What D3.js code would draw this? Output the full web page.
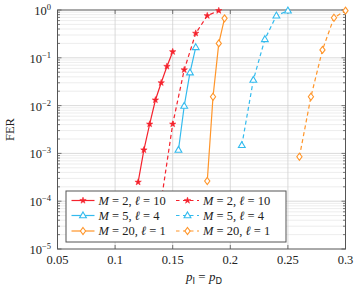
<!DOCTYPE html>
<html><head><meta charset="utf-8">
<script src="https://cdn.jsdelivr.net/npm/d3@7"></script>
<style>body{margin:0;background:#fff}svg{display:block}</style>
</head><body>
<svg id="c" width="359" height="289"></svg>
<script>
const xTicks = [0.05, 0.1, 0.15, 0.2, 0.25, 0.3];
const xTickLabels = ["0.05", "0.1", "0.15", "0.2", "0.25", "0.3"];
const yExponents = [0, -1, -2, -3, -4, -5];

const redSolidX = [0.12, 0.125, 0.13, 0.135, 0.14, 0.145, 0.15];
const redSolidY = [2.5e-4, 1.18e-3, 4.1e-3, 1.31e-2, 3.0e-2, 6.6e-2, 1.34e-1];
const redDashedX = [0.14, 0.15, 0.16, 0.17, 0.18, 0.19];
const redDashedY = [1.0e-4, 4.1e-3, 5.6e-2, 3.26e-1, 7.6e-1, 9.7e-1];
const blueSolidX = [0.155, 0.16, 0.165, 0.17];
const blueSolidY = [1.18e-3, 9.8e-3, 4.9e-2, 1.66e-1];
const blueDashedX = [0.21, 0.22, 0.23, 0.24, 0.25];
const blueDashedY = [1.48e-3, 3.43e-2, 2.44e-1, 7.6e-1, 9.7e-1];
const orangeSolidX = [0.18, 0.185, 0.19, 0.195];
const orangeSolidY = [2.65e-4, 1.53e-2, 2.0e-1, 6.7e-1];
const orangeDashedX = [0.26, 0.27, 0.28, 0.29, 0.30];
const orangeDashedY = [8.5e-4, 1.53e-2, 1.46e-1, 6.9e-1, 9.7e-1];

const legendM = ["2", "5", "20"];
const legendL = ["10", "4", "1"];

const RED = "#f5222d", BLUE = "#33bbee", ORANGE = "#ff9529";
const series = [
  {x: redSolidX, y: redSolidY, color: RED, dash: null, marker: "star"},
  {x: redDashedX, y: redDashedY, color: RED, dash: "4,3", marker: "star"},
  {x: blueSolidX, y: blueSolidY, color: BLUE, dash: null, marker: "tri"},
  {x: blueDashedX, y: blueDashedY, color: BLUE, dash: "4,3", marker: "tri"},
  {x: orangeSolidX, y: orangeSolidY, color: ORANGE, dash: null, marker: "dia"},
  {x: orangeDashedX, y: orangeDashedY, color: ORANGE, dash: "4,3", marker: "dia"}
];

const L = 57.5, R = 345.5, T = 10, B = 249;
const svg = d3.select("#c");
const x = d3.scaleLinear().domain([0.05, 0.3]).range([L, R]);
const y = d3.scaleLog().domain([1e-5, 1]).range([B, T]);
const FONT = "'Liberation Serif', 'DejaVu Serif', serif";

const minors = [];
for (let e = -5; e < 0; e++) for (let k = 2; k <= 9; k++) minors.push(k * Math.pow(10, e));

// grid
const g = svg.append("g");
g.selectAll(".mg").data(minors).join("line")
  .attr("x1", L).attr("x2", R).attr("y1", d => y(d)).attr("y2", d => y(d))
  .attr("stroke", "#e8e8e8").attr("stroke-width", 0.8);
g.selectAll(".Mg").data(yExponents.slice(1, -1).map(e => Math.pow(10, e))).join("line")
  .attr("x1", L).attr("x2", R).attr("y1", d => y(d)).attr("y2", d => y(d))
  .attr("stroke", "#d0d0d0").attr("stroke-width", 0.8);
g.selectAll(".vg").data(xTicks.slice(1, -1)).join("line")
  .attr("x1", d => x(d)).attr("x2", d => x(d)).attr("y1", T).attr("y2", B)
  .attr("stroke", "#d0d0d0").attr("stroke-width", 0.8);

// ticks (inward, both sides)
const tk = svg.append("g").attr("stroke", "#555").attr("stroke-width", 0.8);
minors.forEach(v => {
  tk.append("line").attr("x1", L).attr("x2", L + 2.5).attr("y1", y(v)).attr("y2", y(v));
  tk.append("line").attr("x1", R).attr("x2", R - 2.5).attr("y1", y(v)).attr("y2", y(v));
});
yExponents.forEach(e => {
  const v = Math.pow(10, e);
  tk.append("line").attr("x1", L).attr("x2", L + 4).attr("y1", y(v)).attr("y2", y(v));
  tk.append("line").attr("x1", R).attr("x2", R - 4).attr("y1", y(v)).attr("y2", y(v));
});
xTicks.forEach(v => {
  tk.append("line").attr("x1", x(v)).attr("x2", x(v)).attr("y1", B).attr("y2", B - 4);
  tk.append("line").attr("x1", x(v)).attr("x2", x(v)).attr("y1", T).attr("y2", T + 4);
});

svg.append("rect").attr("x", L).attr("y", T).attr("width", R - L).attr("height", B - T)
  .attr("fill", "none").attr("stroke", "#555").attr("stroke-width", 1);

// tick labels
svg.append("g").selectAll("text").data(xTicks).join("text")
  .attr("x", d => x(d)).attr("y", 263.5).attr("text-anchor", "middle")
  .attr("font-family", FONT).attr("font-size", 12.5).attr("fill", "#222")
  .text((d, i) => xTickLabels[i]);

const yl = svg.append("g");
yExponents.forEach(e => {
  const t = yl.append("text").attr("x", 51).attr("y", y(Math.pow(10, e)) + 5)
    .attr("text-anchor", "end").attr("font-family", FONT).attr("fill", "#222");
  t.append("tspan").attr("font-size", 12.5).text("10");
  t.append("tspan").attr("font-size", 8.5).attr("dy", -5).text(e === 0 ? "0" : "\u2212" + (-e));
});

svg.append("text").attr("transform", `translate(14,${(T + B) / 2}) rotate(-90)`)
  .attr("text-anchor", "middle").attr("font-family", FONT).attr("font-size", 12.5).attr("fill", "#222")
  .text("FER");
const xl = svg.append("text").attr("x", 204).attr("y", 281).attr("text-anchor", "middle")
  .attr("font-family", FONT).attr("font-size", 13).attr("fill", "#222");
xl.append("tspan").attr("font-style", "italic").text("p");
xl.append("tspan").attr("font-family", "'DejaVu Sans', sans-serif").attr("font-size", 8.5).attr("dy", 3).text("I");
xl.append("tspan").attr("dy", -3).text(" = ");
xl.append("tspan").attr("font-style", "italic").text("p");
xl.append("tspan").attr("font-family", "'DejaVu Sans', sans-serif").attr("font-size", 8.5).attr("dy", 3).text("D");

function starPath(r) {
  let p = "";
  for (let i = 0; i < 10; i++) {
    const rr = i % 2 === 0 ? r : r * 0.4;
    const a = -Math.PI / 2 + i * Math.PI / 5;
    p += (i === 0 ? "M" : "L") + (rr * Math.cos(a)).toFixed(2) + "," + (rr * Math.sin(a)).toFixed(2);
  }
  return p + "Z";
}
function drawMarker(sel, type, color, cx, cy) {
  if (type === "star") {
    sel.append("path").attr("d", starPath(3.4)).attr("transform", `translate(${cx},${cy})`)
      .attr("fill", color).attr("stroke", color).attr("stroke-width", 0.5);
  } else if (type === "tri") {
    sel.append("path").attr("d", "M0,-3.6L3.4,2.3L-3.4,2.3Z").attr("transform", `translate(${cx},${cy})`)
      .attr("fill", "#fff").attr("stroke", color).attr("stroke-width", 1.1);
  } else {
    sel.append("path").attr("d", "M0,-3.5L2.6,0L0,3.5L-2.6,0Z").attr("transform", `translate(${cx},${cy})`)
      .attr("fill", "#fff").attr("stroke", color).attr("stroke-width", 1.1);
  }
}

const line = d3.line().x(d => x(d[0])).y(d => y(d[1]));
const plot = svg.append("g");
series.forEach(s => {
  const pts = s.x.map((v, i) => [v, s.y[i]]);
  plot.append("path").attr("d", line(pts)).attr("fill", "none")
    .attr("stroke", s.color).attr("stroke-width", 1.2)
    .attr("stroke-dasharray", s.dash);
  pts.forEach(p => drawMarker(plot, s.marker, s.color, x(p[0]), y(p[1])));
});

// legend
const lg = svg.append("g");
lg.append("rect").attr("x", 66).attr("y", 191).attr("width", 220).attr("height", 51)
  .attr("fill", "#fff").attr("stroke", "#555").attr("stroke-width", 1);
const rowsY = [200.5, 215.5, 231];
const colX = [71.5, 176];
for (let r = 0; r < 3; r++) {
  for (let c = 0; c < 2; c++) {
    const s = series[r * 2 + c];
    const x0 = colX[c];
    lg.append("line").attr("x1", x0).attr("x2", x0 + 23).attr("y1", rowsY[r]).attr("y2", rowsY[r])
      .attr("stroke", s.color).attr("stroke-width", 1.2).attr("stroke-dasharray", s.dash ? "3.5,3.5" : null);
    drawMarker(lg, s.marker, s.color, x0 + 11.5, rowsY[r]);
    const t = lg.append("text").attr("x", x0 + 27).attr("y", rowsY[r] + 4.3)
      .attr("font-family", FONT).attr("font-size", 12.5).attr("fill", "#222");
    t.append("tspan").attr("font-style", "italic").text("M");
    t.append("tspan").text(" = " + legendM[r] + (r === 2 ? ", " : ",  "));
    t.append("tspan").attr("font-style", "italic").text("\u2113");
    t.append("tspan").text(" = " + legendL[r]);
  }
}
</script>
</body></html>
